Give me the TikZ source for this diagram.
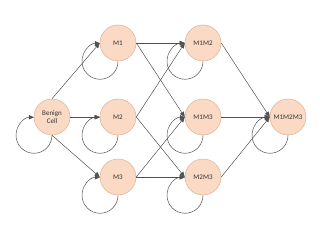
\documentclass[tikz,border=0pt]{standalone}
\usepackage{fontspec}
\setmainfont{Carlito}
\usepackage{tikz}
\usetikzlibrary{arrows.meta}
\definecolor{cPeach}{RGB}{250,218,196}
\definecolor{cRim}{RGB}{226,180,152}
\definecolor{cLine}{RGB}{80,80,80}
\tikzset{
	state/.style  ={circle, draw=cRim, fill=cPeach, minimum size=0.9cm, inner sep=0pt, align=center, font=\fontsize{5}{5.5}\selectfont, text=black!80},
	trans/.style  ={-{Triangle[length=1.3mm, width=1.1mm]}, draw=cLine, line width=0.35pt},
}
\begin{document}
\begin{tikzpicture}
	\useasboundingbox (0,0) rectangle (8,6);
	% states
	\node[state] (bc)   at (1.3,3.075)   {Benign\\Cell};
	\node[state] (m1)   at (2.95,4.925)  {M1};
	\node[state] (m2)   at (2.95,3.075)  {M2};
	\node[state] (m3)   at (2.95,1.575)  {M3};
	\node[state] (m12)  at (5.075,4.925) {M1M2};
	\node[state] (m13)  at (5.075,3.075) {M1M3};
	\node[state] (m23)  at (5.075,1.575) {M2M3};
	\node[state] (m123) at (7.2,3.075)   {M1M2M3};
	% first mutation
	\draw[trans] (bc.north) -- (m1.west);
	\draw[trans] (bc) -- (m2);
	\draw[trans] (bc.south) -- (m3.west);
	% second mutation
	\draw[trans] (m1) -- (m12);
	\draw[trans] (m1.east) -- (m13.west);
	\draw[trans] (m2.east) -- (m12.west);
	\draw[trans] (m2.east) -- (m23.west);
	\draw[trans] (m3.east) -- (m13.west);
	\draw[trans] (m3) -- (m23);
	% third mutation
	\draw[trans] (m12.east) -- (m123.west);
	\draw[trans] (m13) -- (m123);
	\draw[trans] (m23.east) -- (m123.west);
	% stay in state
	\foreach \s in {bc,m1,m2,m3,m12,m13,m23,m123}
		\draw[trans] (\s.south) arc[start angle=0, end angle=-270, radius=0.45cm];
\end{tikzpicture}
\end{document}
